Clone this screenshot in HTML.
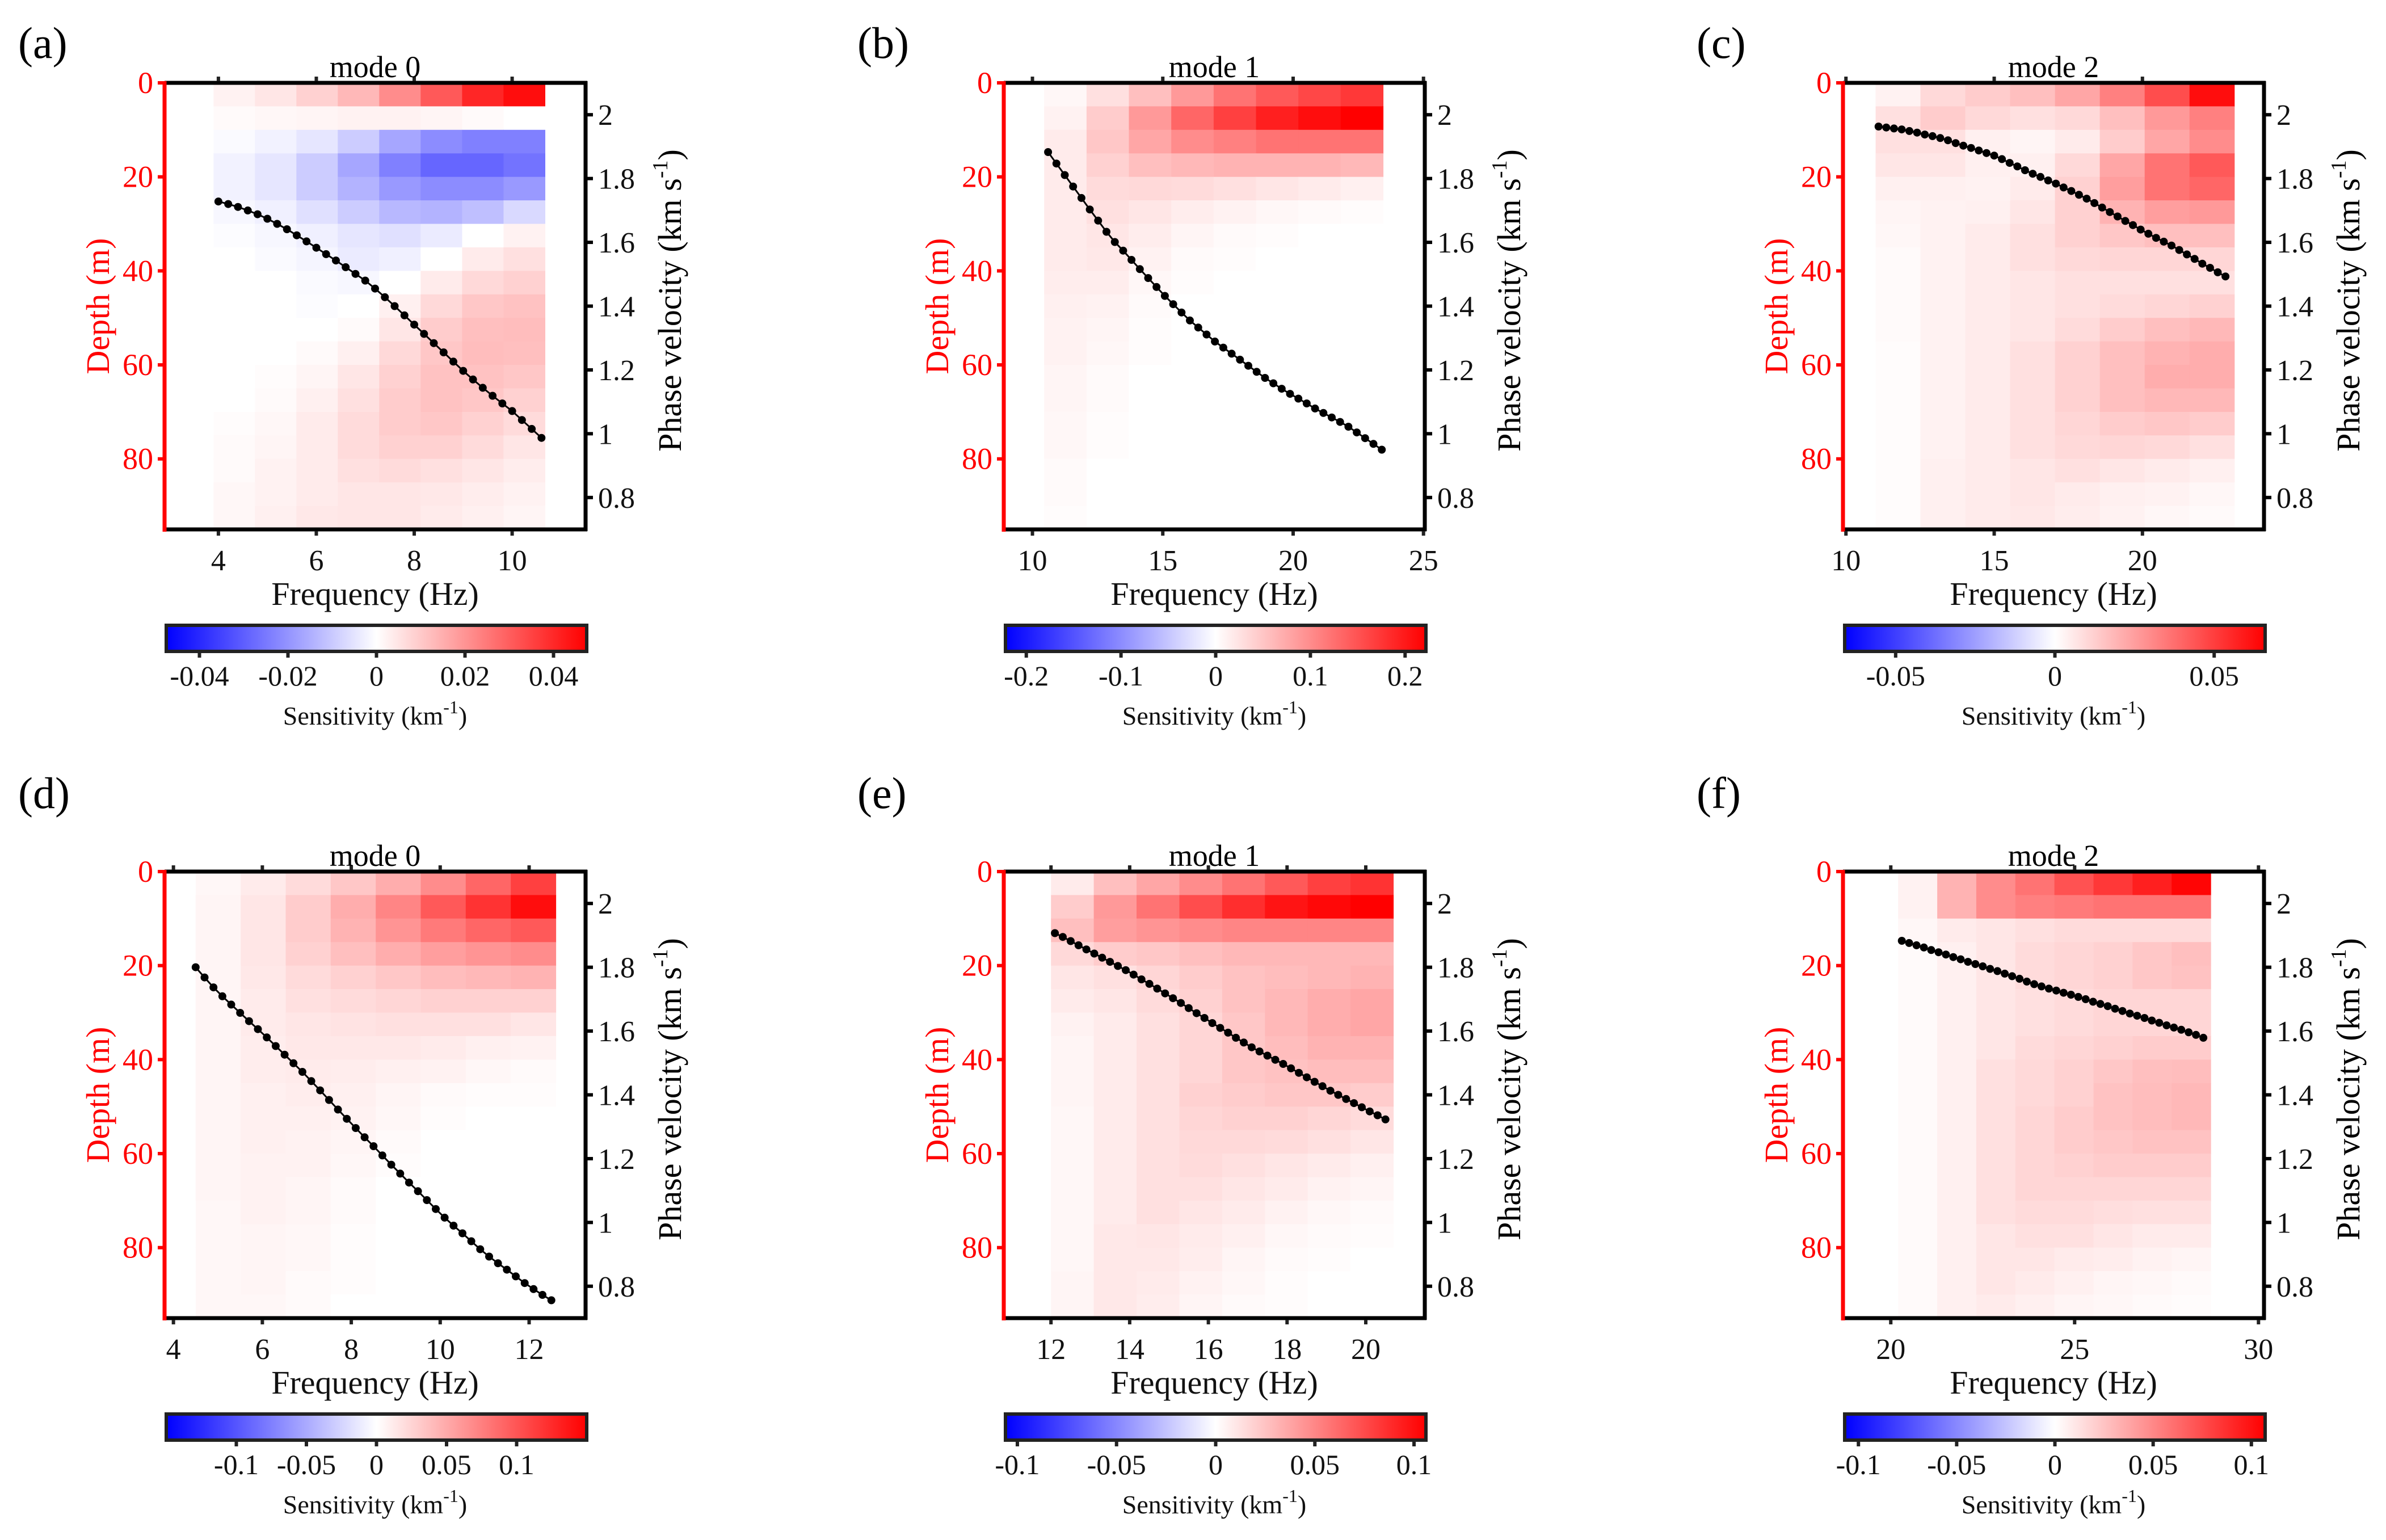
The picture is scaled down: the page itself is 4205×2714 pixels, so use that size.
<!DOCTYPE html>
<html><head><meta charset="utf-8"><title>Sensitivity kernels</title>
<style>
html,body{margin:0;padding:0;background:#fff;}
svg{display:block;font-family:"Liberation Serif","Times New Roman",serif;}
</style></head>
<body>
<svg id="fig" xmlns="http://www.w3.org/2000/svg" width="4205" height="2714" viewBox="0 0 4205 2714"></svg>
<script>
// ---------- data ----------
const freqA=[4.0,4.2,4.4,4.6,4.8,5.0,5.2,5.4,5.6,5.8,6.0,6.2,6.4,6.6,6.8,7.0,7.2,7.4,7.6,7.8,8.0,8.2,8.4,8.6,8.8,9.0,9.2,9.4,9.6,9.8,10.0,10.2,10.4,10.6];
const velA=[1.728,1.720,1.711,1.700,1.688,1.674,1.658,1.641,1.622,1.603,1.583,1.563,1.543,1.522,1.501,1.480,1.455,1.428,1.400,1.371,1.342,1.313,1.284,1.255,1.226,1.197,1.170,1.144,1.119,1.095,1.071,1.043,1.015,0.987];
const freqB=[10.60,10.92,11.24,11.56,11.88,12.20,12.52,12.84,13.16,13.48,13.80,14.12,14.44,14.76,15.08,15.40,15.72,16.04,16.36,16.68,17.00,17.32,17.64,17.96,18.28,18.60,18.92,19.24,19.56,19.88,20.20,20.52,20.84,21.16,21.48,21.80,22.12,22.44,22.76,23.08,23.40];
const velB=[1.883,1.847,1.811,1.775,1.739,1.703,1.668,1.633,1.601,1.574,1.545,1.516,1.488,1.460,1.432,1.406,1.380,1.355,1.333,1.311,1.289,1.270,1.251,1.232,1.213,1.194,1.175,1.158,1.141,1.125,1.110,1.095,1.079,1.065,1.051,1.037,1.022,1.004,0.986,0.968,0.950];
const freqC=[11.10,11.36,11.62,11.88,12.14,12.40,12.66,12.92,13.18,13.44,13.70,13.96,14.22,14.48,14.74,15.00,15.26,15.52,15.78,16.04,16.30,16.56,16.82,17.08,17.34,17.60,17.86,18.12,18.38,18.64,18.90,19.16,19.42,19.68,19.94,20.20,20.46,20.72,20.98,21.24,21.50,21.76,22.02,22.28,22.54,22.80];
const velC=[1.963,1.960,1.957,1.954,1.949,1.944,1.938,1.933,1.927,1.920,1.911,1.903,1.896,1.888,1.880,1.872,1.861,1.849,1.838,1.826,1.815,1.805,1.794,1.784,1.772,1.761,1.749,1.737,1.723,1.709,1.695,1.681,1.667,1.654,1.640,1.627,1.614,1.602,1.590,1.576,1.562,1.548,1.533,1.520,1.506,1.493];
const freqD=[4.5,4.7,4.9,5.1,5.3,5.5,5.7,5.9,6.1,6.3,6.5,6.7,6.9,7.1,7.3,7.5,7.7,7.9,8.1,8.3,8.5,8.7,8.9,9.1,9.3,9.5,9.7,9.9,10.1,10.3,10.5,10.7,10.9,11.1,11.3,11.5,11.7,11.9,12.1,12.3,12.5];
const velD=[1.800,1.768,1.737,1.709,1.683,1.657,1.631,1.606,1.580,1.553,1.526,1.499,1.472,1.443,1.414,1.384,1.354,1.325,1.296,1.267,1.239,1.210,1.181,1.153,1.125,1.098,1.070,1.042,1.015,0.990,0.966,0.941,0.916,0.893,0.872,0.852,0.831,0.810,0.791,0.773,0.756];
const freqE=[12.1,12.3,12.5,12.7,12.9,13.1,13.3,13.5,13.7,13.9,14.1,14.3,14.5,14.7,14.9,15.1,15.3,15.5,15.7,15.9,16.1,16.3,16.5,16.7,16.9,17.1,17.3,17.5,17.7,17.9,18.1,18.3,18.5,18.7,18.9,19.1,19.3,19.5,19.7,19.9,20.1,20.3,20.5];
const velE=[1.907,1.895,1.882,1.869,1.856,1.843,1.830,1.817,1.804,1.791,1.777,1.762,1.748,1.733,1.718,1.703,1.688,1.672,1.656,1.641,1.625,1.610,1.595,1.579,1.564,1.549,1.536,1.523,1.510,1.497,1.483,1.469,1.455,1.441,1.427,1.413,1.400,1.387,1.374,1.361,1.348,1.336,1.323];
const freqF=[20.3,20.5,20.7,20.9,21.1,21.3,21.5,21.7,21.9,22.1,22.3,22.5,22.7,22.9,23.1,23.3,23.5,23.7,23.9,24.1,24.3,24.5,24.7,24.9,25.1,25.3,25.5,25.7,25.9,26.1,26.3,26.5,26.7,26.9,27.1,27.3,27.5,27.7,27.9,28.1,28.3,28.5];
const velF=[1.883,1.876,1.869,1.862,1.854,1.847,1.840,1.832,1.825,1.817,1.810,1.803,1.795,1.788,1.780,1.772,1.764,1.755,1.747,1.740,1.733,1.727,1.720,1.714,1.707,1.700,1.692,1.685,1.678,1.670,1.663,1.655,1.648,1.641,1.633,1.626,1.618,1.611,1.604,1.596,1.588,1.579];

// sensitivity grids: 19 depth rows (5 m) x 8 frequency columns, % of colour limit
const heatA=[
[5,10,18,28,45,65,85,95],[2,3,4,5,5,4,2,0],[-2,-5,-10,-20,-35,-45,-50,-50],[-5,-10,-20,-35,-50,-60,-60,-55],
[-5,-10,-20,-30,-40,-45,-45,-40],[-3,-6,-12,-20,-28,-30,-25,-15],[-1,-3,-6,-10,-12,-8,0,5],[0,-2,-4,-8,-6,0,8,12],
[0,0,-2,-3,0,8,15,18],[0,0,-1,0,6,15,22,24],[0,0,0,2,10,20,25,26],[0,0,2,6,15,22,26,25],
[0,1,4,10,18,24,24,22],[0,2,6,12,20,24,22,18],[1,3,8,14,20,22,18,14],[2,4,8,14,18,18,14,10],
[2,5,8,12,14,12,10,7],[3,5,8,10,10,9,7,5],[3,6,9,10,10,8,6,4]];
const heatB=[
[3,12,25,40,55,65,72,78],[5,20,40,60,75,88,95,100],[8,22,35,45,50,55,55,55],[8,18,25,28,30,30,30,28],
[8,14,15,14,12,10,8,6],[8,12,10,7,5,3,2,1],[8,10,7,4,2,1,0,0],[8,9,5,2,1,0,0,0],
[7,7,3,1,0,0,0,0],[6,5,2,0,0,0,0,0],[5,4,1,0,0,0,0,0],[5,3,1,0,0,0,0,0],
[4,2,0,0,0,0,0,0],[4,2,0,0,0,0,0,0],[3,1,0,0,0,0,0,0],[3,1,0,0,0,0,0,0],
[2,0,0,0,0,0,0,0],[2,0,0,0,0,0,0,0],[1,0,0,0,0,0,0,0]];
const heatC=[
[5,15,20,25,35,50,70,95],[12,20,15,12,15,25,40,50],[12,12,6,4,8,20,35,45],[10,10,6,6,15,35,55,65],
[6,6,5,8,18,38,55,60],[4,5,6,10,18,30,38,40],[3,5,8,12,18,22,25,25],[2,5,8,12,15,16,16,16],
[2,5,8,10,12,12,12,12],[2,5,8,10,12,14,16,18],[2,5,8,10,14,20,25,28],[1,5,8,12,18,25,30,32],
[1,5,8,12,18,25,32,32],[1,5,8,12,18,25,28,28],[1,5,8,12,16,20,22,20],[1,5,8,12,15,16,15,12],
[1,6,8,10,12,10,8,6],[1,6,8,10,8,6,5,3],[1,6,8,9,7,5,3,2]];
const heatD=[
[3,8,14,22,32,45,60,75],[4,10,20,32,48,65,80,95],[4,10,20,30,42,52,60,65],[4,10,18,25,32,38,42,45],
[4,9,14,18,22,26,28,30],[4,8,12,14,16,18,18,18],[4,8,10,11,12,12,12,10],[4,7,9,9,9,8,6,5],
[4,7,8,7,6,5,3,2],[4,6,7,6,4,2,1,1],[4,6,6,5,3,1,0,0],[4,6,5,4,2,0,0,0],
[4,5,5,3,1,0,0,0],[4,5,4,2,0,0,0,0],[3,5,4,2,0,0,0,0],[3,4,3,1,0,0,0,0],
[3,4,3,1,0,0,0,0],[3,4,2,1,0,0,0,0],[3,3,2,0,0,0,0,0]];
const heatE=[
[8,25,35,45,55,65,75,80],[20,40,55,70,82,92,97,100],[25,38,42,45,48,48,48,48],[15,20,22,25,28,28,28,28],
[10,12,16,20,24,26,28,30],[8,10,14,18,24,28,32,35],[5,8,12,16,22,28,32,35],[4,8,12,16,22,26,30,30],
[4,8,12,16,22,24,26,26],[4,8,12,18,20,22,22,20],[3,8,12,16,18,18,16,14],[3,8,12,15,15,14,12,10],
[3,8,12,14,12,10,8,6],[3,8,12,12,10,8,5,4],[3,8,12,10,8,5,3,2],[3,9,10,8,6,3,2,1],
[3,9,9,7,4,2,1,0],[4,9,8,5,3,1,0,0],[4,9,7,4,2,1,0,0]];
const heatF=[
[5,30,45,55,68,78,88,98],[5,30,45,50,52,55,55,55],[3,8,10,12,14,14,14,14],[2,6,10,14,16,18,22,25],
[2,6,10,14,16,18,22,24],[2,6,10,12,14,16,16,16],[2,6,10,12,14,16,16,16],[2,6,10,14,16,18,20,20],
[2,6,12,15,18,22,25,26],[2,6,12,15,18,24,26,28],[2,6,12,16,20,24,26,28],[2,6,12,16,20,22,24,24],
[2,6,12,16,18,20,20,20],[2,6,12,16,16,16,16,16],[2,6,12,14,14,13,12,12],[2,6,10,12,12,10,8,8],
[2,6,10,10,8,7,5,4],[2,6,10,8,6,4,3,2],[2,6,8,6,4,3,2,1]];

const xTicksA=[4,6,8,10], xTicksB=[10,15,20,25], xTicksC=[10,15,20];
const xTicksD=[4,6,8,10,12], xTicksE=[12,14,16,18,20], xTicksF=[20,25,30];
const cbTicksA=[-0.04,-0.02,0,0.02,0.04], cbLabelsA=["-0.04","-0.02","0","0.02","0.04"];
const cbTicksB=[-0.2,-0.1,0,0.1,0.2], cbLabelsB=["-0.2","-0.1","0","0.1","0.2"];
const cbTicksC=[-0.05,0,0.05], cbLabelsC=["-0.05","0","0.05"];
const cbTicksD=[-0.1,-0.05,0,0.05,0.1], cbLabelsD=["-0.1","-0.05","0","0.05","0.1"];
const cbTicksE=[-0.1,-0.05,0,0.05,0.1], cbLabelsE=["-0.1","-0.05","0","0.05","0.1"];
const cbTicksF=[-0.1,-0.05,0,0.05,0.1], cbLabelsF=["-0.1","-0.05","0","0.05","0.1"];
const depthTicks=[0,20,40,60,80];
const velTicks=[0.8,1,1.2,1.4,1.6,1.8,2], velTickLabels=["0.8","1","1.2","1.4","1.6","1.8","2"];

// ---------- panel configuration ----------
const panels=[
 {id:"a",title:"mode 0",col:0,row:0,xd:[2.9,11.5],hx:[3.9,10.67],freq:freqA,vel:velA,heat:heatA,xt:xTicksA,cbMax:0.0475,cbT:cbTicksA,cbL:cbLabelsA},
 {id:"b",title:"mode 1",col:1,row:0,xd:[8.9,25.05],hx:[10.45,23.45],freq:freqB,vel:velB,heat:heatB,xt:xTicksB,cbMax:0.222,cbT:cbTicksB,cbL:cbLabelsB},
 {id:"c",title:"mode 2",col:2,row:0,xd:[9.9,24.1],hx:[11.0,23.1],freq:freqC,vel:velC,heat:heatC,xt:xTicksC,cbMax:0.066,cbT:cbTicksC,cbL:cbLabelsC},
 {id:"d",title:"mode 0",col:0,row:1,xd:[3.8,13.27],hx:[4.5,12.6],freq:freqD,vel:velD,heat:heatD,xt:xTicksD,cbMax:0.150,cbT:cbTicksD,cbL:cbLabelsD},
 {id:"e",title:"mode 1",col:1,row:1,xd:[10.8,21.5],hx:[12.0,20.7],freq:freqE,vel:velE,heat:heatE,xt:xTicksE,cbMax:0.106,cbT:cbTicksE,cbL:cbLabelsE},
 {id:"f",title:"mode 2",col:2,row:1,xd:[18.7,30.15],hx:[20.2,28.7],freq:freqF,vel:velF,heat:heatF,xt:xTicksF,cbMax:0.107,cbT:cbTicksF,cbL:cbLabelsF}
];
const NS="http://www.w3.org/2000/svg";
const svg=document.getElementById('fig');
function mk(tag,attrs,parent){const e=document.createElementNS(NS,tag);for(const k in attrs)e.setAttribute(k,attrs[k]);(parent||svg).appendChild(e);return e;}
function txt(s,attrs,parent){const e=mk('text',attrs,parent);e.textContent=s;return e;}
function bwr(p){p=Math.max(-100,Math.min(100,p))/100;if(p>=0){const c=Math.round(255*(1-p));return `rgb(255,${c},${c})`;}const c=Math.round(255*(1+p));return `rgb(${c},${c},255)`;}

const W=742,H=787,DMAX=95,VMIN=0.7,VMAX=2.1;
panels.forEach(P=>{
  const L=290+P.col*1479, T=146+P.row*1390;
  const xs=f=>L+(f-P.xd[0])/(P.xd[1]-P.xd[0])*W;
  const yd=d=>T+d/DMAX*H;
  const yv=v=>T+(VMAX-v)/(VMAX-VMIN)*H;
  const g=mk('g',{});
  
  

  const lt=txt('('+P.id+')',{x:L-258,y:T-(P.row?112:44),'font-size':78,fill:'#000'},g);
  
  

  // heatmap
  const hg=mk('g',{},g);
  
  
  const nr=P.heat.length, nc=P.heat[0].length, cw=(P.hx[1]-P.hx[0])/nc;
  P.heat.forEach((row,i)=>row.forEach((v,j)=>{
    const x0=xs(P.hx[0]+j*cw), x1=xs(P.hx[0]+(j+1)*cw), y0=yd(i*DMAX/nr), y1=yd((i+1)*DMAX/nr);
    const r=mk('rect',{x:x0.toFixed(1),y:y0.toFixed(1),width:(x1-x0+0.6).toFixed(1),height:(y1-y0+0.6).toFixed(1),fill:bwr(v)},hg);
    
    
  }));

  // curve
  const pts=P.freq.map((f,i)=>xs(f).toFixed(1)+','+yv(P.vel[i]).toFixed(1)).join(' ');
  const pl=mk('polyline',{points:pts,fill:'none',stroke:'#000','stroke-width':3},g);
  
  
  P.freq.forEach((f,i)=>{
    const c=mk('circle',{cx:xs(f).toFixed(1),cy:yv(P.vel[i]).toFixed(1),r:7,fill:'#000'},g);
    
    
  });

  // axes frame
  const fr=mk('g',{},g);
  
  
  mk('line',{x1:L,y1:T,x2:L+W+3,y2:T,stroke:'#000','stroke-width':7},fr);
  mk('line',{x1:L,y1:T+H,x2:L+W+3,y2:T+H,stroke:'#000','stroke-width':7},fr);
  mk('line',{x1:L+W,y1:T-3,x2:L+W,y2:T+H+3,stroke:'#000','stroke-width':7},fr);
  mk('line',{x1:L,y1:T-3,x2:L,y2:T+H+4,stroke:'#f00','stroke-width':7},fr);

  // x ticks
  const xa=mk('g',{},g);
  
  
  P.xt.forEach(t=>{
    const x=xs(t);
    mk('line',{x1:x,y1:T-3,x2:x,y2:T-11,stroke:'#222','stroke-width':6},xa);
    mk('line',{x1:x,y1:T+H+3,x2:x,y2:T+H+11,stroke:'#222','stroke-width':6},xa);
    const tl=txt(String(t),{x:x,y:T+H+72,'font-size':52,'text-anchor':'middle',fill:'#111'},xa);
    
    
  });
  const xt=txt('Frequency (Hz)',{x:L+W/2,y:T+H+133,'font-size':58,'text-anchor':'middle',fill:'#111'},g);
  
  
  const tt=txt(P.title,{x:L+W/2,y:T-10,'font-size':54,'text-anchor':'middle',fill:'#000'},g);
  
  

  // depth axis
  const da=mk('g',{},g);
  
  
  depthTicks.forEach(d=>{
    const y=yd(d);
    mk('line',{x1:L-3,y1:y,x2:L-12,y2:y,stroke:'#f00','stroke-width':6},da);
    const dl=txt(String(d),{x:L-20,y:y+18,'font-size':54,'text-anchor':'end',fill:'#f00'},da);
    
    
  });
  const dt=txt('Depth (m)',{x:0,y:0,'font-size':58,'text-anchor':'middle',fill:'#f00',transform:`translate(${L-98},${T+H/2}) rotate(-90)`},g);
  
  

  // velocity axis
  const va=mk('g',{},g);
  
  
  velTicks.forEach((v,i)=>{
    const y=yv(v);
    mk('line',{x1:L+W+3,y1:y,x2:L+W+13,y2:y,stroke:'#000','stroke-width':6},va);
    const vl=txt(velTickLabels[i],{x:L+W+22,y:y+18,'font-size':52,fill:'#111'},va);
    
    
  });
  const vt=mk('text',{x:0,y:0,'font-size':58,'text-anchor':'middle',fill:'#000',transform:`translate(${L+W+168},${T+H/2-10}) rotate(-90)`},g);
  
  
  vt.appendChild(document.createTextNode('Phase velocity (km s'));
  const sup=mk('tspan',{dy:-24,'font-size':38},vt); sup.textContent='-1';
  const cl=mk('tspan',{dy:24},vt); cl.textContent=')';

  // colorbar
  const cbL=L+3, cbR=L+744, cbT=T+956, cbB=T+1002;
  const gid='grad'+P.id;
  const defs=mk('defs',{},g);
  const lg=mk('linearGradient',{id:gid,x1:0,y1:0,x2:1,y2:0},defs);
  mk('stop',{offset:'0','stop-color':'#0000ff'},lg);
  mk('stop',{offset:'0.5','stop-color':'#ffffff'},lg);
  mk('stop',{offset:'1','stop-color':'#ff0000'},lg);
  const cb=mk('g',{},g);
  
  
  mk('rect',{x:cbL,y:cbT,width:cbR-cbL,height:cbB-cbT,fill:`url(#${gid})`,stroke:'#222','stroke-width':6},cb);
  const xc=s=>cbL+(s+P.cbMax)/(2*P.cbMax)*(cbR-cbL);
  P.cbT.forEach((s,i)=>{
    const x=xc(s);
    mk('line',{x1:x,y1:cbB+3,x2:x,y2:cbB+11,stroke:'#222','stroke-width':6},cb);
    const cl2=txt(P.cbL[i],{x:x,y:cbB+60,'font-size':50,'text-anchor':'middle',fill:'#111'},cb);
    
    
  });
  const st=mk('text',{x:L+W/2,y:cbB+129,'font-size':46,'text-anchor':'middle',fill:'#111'},g);
  
  
  st.appendChild(document.createTextNode('Sensitivity (km'));
  const s2=mk('tspan',{dy:-20,'font-size':32},st); s2.textContent='-1';
  const s3=mk('tspan',{dy:20},st); s3.textContent=')';
});
</script>
</body></html>
